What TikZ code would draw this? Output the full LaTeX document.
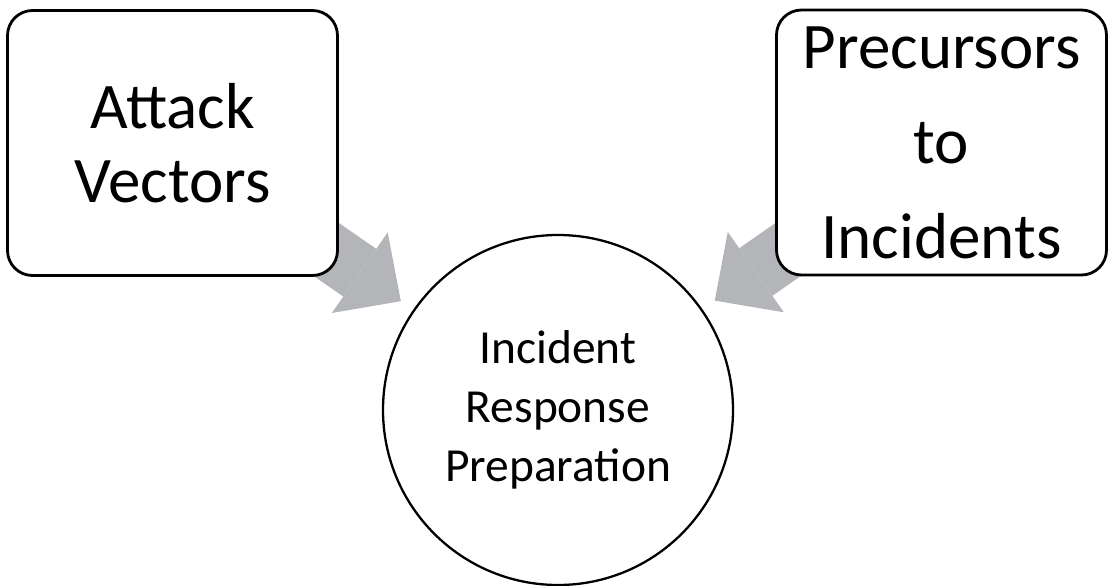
\documentclass[tikz,border=0pt]{standalone}
\usepackage{fontspec}
\setmainfont{Carlito}
\usepackage{tikz}
\usetikzlibrary{
  arrows.meta,
  backgrounds
}
\definecolor{ArrowGray}{HTML}{B4B5B8}
\tikzset{
  sourcebox/.style={
    draw=black,
    line width=1.6pt,
    rounded corners=0.5cm,
    fill=white,
    align=center,
    minimum width=6.6cm,
    minimum height=5.3cm,
    inner sep=2pt
  },
  goal/.style={
    circle,
    draw=black,
    line width=1.3pt,
    fill=white,
    align=center,
    minimum size=7cm,
    inner sep=0pt,
    font=\fontsize{27}{33.6}\selectfont
  },
  feed/.style={
    draw=ArrowGray,
    line width=1.16cm,
    shorten >=0.3cm,
    -{Triangle[length=1cm, width=1.96cm, line width'=0pt]}
  }
}

\begin{document}
\begin{tikzpicture}

  \useasboundingbox (0,0) rectangle (22.22,-11.72);

  \node[
    sourcebox,
    font=\fontsize{37}{42}\selectfont
  ] (attack) at (3.45,-2.86) {
    Attack\\
    Vectors
  };

  \node[
    sourcebox,
    font=\fontsize{37}{54}\selectfont
  ] (precursors) at (18.83,-2.85) {
    Precursors\\
    to\\
    Incidents
  };

  \node[goal] (prep) at (11.16,-8.2) {
    Incident\\
    Response\\
    Preparation
  };

  \begin{scope}[on background layer]
    \draw[feed] (attack.center) -- (prep);
    \draw[feed] (precursors.center) -- (prep);
  \end{scope}

\end{tikzpicture}
\end{document}
